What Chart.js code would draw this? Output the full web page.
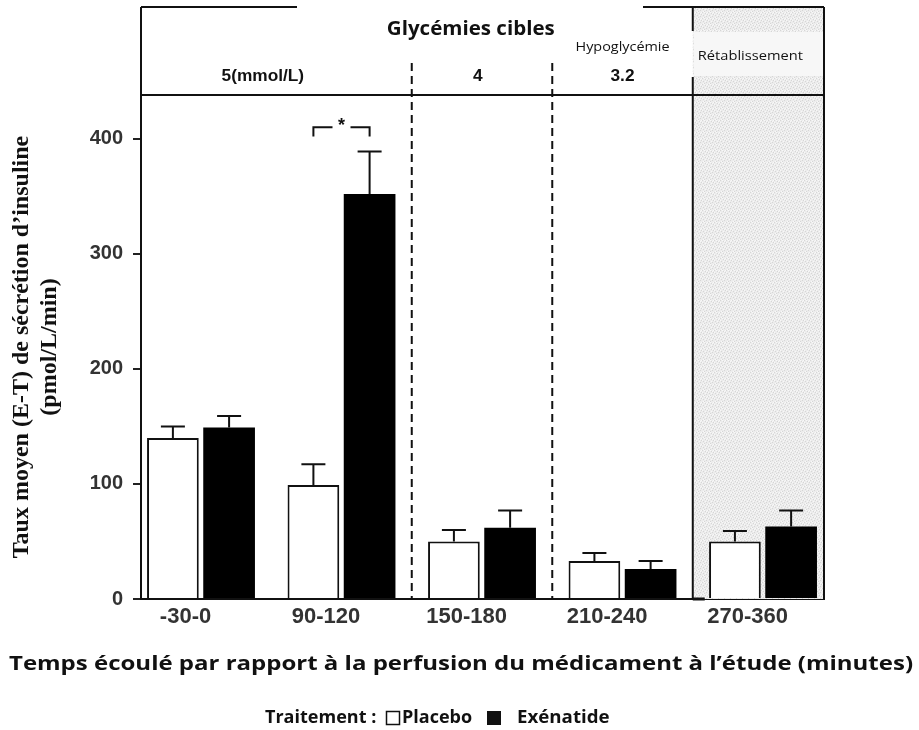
<!DOCTYPE html>
<html>
<head>
<meta charset="utf-8">
<script src="https://cdn.jsdelivr.net/npm/chart.js@4.4.0/dist/chart.umd.min.js"></script>
<style>
  html, body { margin: 0; padding: 0; background: #fff; }
</style>
</head>
<body>
<canvas id="myChart" width="919" height="730"></canvas>
<script>
// data
var categories = ["-30-0", "90-120", "150-180", "210-240", "270-360"];
var placebo = [140, 99, 50, 33, 50];
var placeboErr = [10, 18, 10, 7, 9];
var exenatide = [149, 352, 62, 26, 63];
var exenatideErr = [10, 37, 15, 7, 14];
var yTicks = [0, 100, 200, 300, 400];
var phaseLabels = ["5(mmol/L)", "4", "3.2"];
var phaseCenters = [0.44, 1.97, 3.0];   // in category units
var phaseBounds = [1.5, 2.5];           // dashed separators
var recoveryStart = 3.5;                // shaded "Rétablissement" zone
var labelShift = -0.11;                 // x labels sit a little left of each pair

var sans = "'Open Sans', 'Noto Sans', sans-serif";
var arial = "'Liberation Sans', Arial, sans-serif";

// small fixed stipple for the shaded zone
function stipple(ctx) {
  var c = document.createElement("canvas");
  c.width = 6; c.height = 6;
  var p = c.getContext("2d");
  p.fillStyle = "#ececec";
  p.fillRect(0, 0, 6, 6);
  p.fillStyle = "#d6d6d6";
  [[0, 0], [3, 1], [1, 3], [4, 4], [5, 2], [2, 5]].forEach(function(d) { p.fillRect(d[0], d[1], 1, 1); });
  p.fillStyle = "#f8f8f8";
  [[2, 0], [5, 0], [0, 2], [3, 3], [1, 5], [4, 1]].forEach(function(d) { p.fillRect(d[0], d[1], 1, 1); });
  return ctx.createPattern(c, "repeat");
}

// text stretched horizontally like the source image
function wideText(ctx, text, x, y, sx) {
  ctx.save();
  ctx.translate(x, y);
  ctx.scale(sx, 1);
  ctx.fillText(text, 0, 0);
  ctx.restore();
}

var backdrop = {
  id: "backdrop",
  beforeDatasetsDraw: function(chart) {
    var ctx = chart.ctx, a = chart.chartArea, xs = chart.scales.x;
    var x0 = xs.getPixelForValue(recoveryStart);
    ctx.save();
    ctx.fillStyle = stipple(ctx);
    ctx.fillRect(x0, 7, a.right - x0, a.bottom - 7);
    ctx.fillStyle = "#f7f7f7";
    ctx.fillRect(x0 + 1, 32, a.right - x0 - 2, 44);
    ctx.restore();
  }
};

var frame = {
  id: "frame",
  afterDraw: function(chart) {
    var ctx = chart.ctx, a = chart.chartArea, xs = chart.scales.x, ys = chart.scales.y;
    ctx.save();
    ctx.strokeStyle = "#111";
    ctx.lineWidth = 2;
    ctx.beginPath();
    // header box
    ctx.moveTo(a.left, 7); ctx.lineTo(297, 7);
    ctx.moveTo(643, 7); ctx.lineTo(a.right, 7);
    ctx.moveTo(a.left, 7); ctx.lineTo(a.left, a.top);
    ctx.moveTo(a.left, a.top); ctx.lineTo(a.right, a.top);
    ctx.moveTo(a.right, 7); ctx.lineTo(a.right, a.bottom);
    var x0 = xs.getPixelForValue(recoveryStart);
    ctx.moveTo(x0, 7); ctx.lineTo(x0, 31);
    ctx.moveTo(x0, 77); ctx.lineTo(x0, a.bottom);
    ctx.stroke();
    ctx.beginPath();
    ctx.moveTo(x0, a.bottom); ctx.lineTo(x0 + 12, a.bottom);
    ctx.lineWidth = 3;
    ctx.stroke();

    // dashed separators
    ctx.lineWidth = 2;
    ctx.setLineDash([8, 5]);
    ctx.beginPath();
    phaseBounds.forEach(function(v) {
      var px = xs.getPixelForValue(v);
      ctx.moveTo(px, 63); ctx.lineTo(px, a.bottom);
    });
    ctx.stroke();
    ctx.setLineDash([]);

    // header text
    ctx.fillStyle = "#111";
    ctx.textAlign = "center";
    ctx.textBaseline = "middle";
    ctx.font = "bold 19px " + sans;
    wideText(ctx, "Glycémies cibles", xs.getPixelForValue(1.92), 30, 1.08);
    ctx.font = "bold 16px " + arial;
    phaseLabels.forEach(function(t, i) {
      wideText(ctx, t, xs.getPixelForValue(phaseCenters[i]), 77, 1.08);
    });
    ctx.font = "12px " + sans;
    wideText(ctx, "Hypoglycémie", xs.getPixelForValue(3.0), 48, 1.2);
    wideText(ctx, "Rétablissement", xs.getPixelForValue(3.91), 57, 1.22);

    // significance bracket between the two 90-120 bars
    var m0 = chart.getDatasetMeta(0).data[1], m1 = chart.getDatasetMeta(1).data[1];
    var yb = ys.getPixelForValue(410), ye = ys.getPixelForValue(402);
    var mid = (m0.x + m1.x) / 2;
    ctx.beginPath();
    ctx.moveTo(m0.x, ye); ctx.lineTo(m0.x, yb); ctx.lineTo(mid - 9, yb);
    ctx.moveTo(mid + 9, yb); ctx.lineTo(m1.x, yb); ctx.lineTo(m1.x, ye);
    ctx.stroke();
    ctx.font = "bold 18px " + arial;
    ctx.fillText("*", mid, yb - 1);

    // x axis title
    ctx.font = "bold 20px " + sans;
    wideText(ctx, "Temps écoulé par rapport à la perfusion du médicament à l’étude (minutes)", 461, 664, 1.2);

    // legend
    ctx.textAlign = "left";
    ctx.font = "bold 17px " + sans;
    wideText(ctx, "Traitement :", 265, 718, 1.06);
    wideText(ctx, "Placebo", 402, 718, 1.06);
    wideText(ctx, "Exénatide", 517, 718, 1.1);
    ctx.lineWidth = 1.5;
    ctx.strokeRect(386.5, 711.5, 13, 13);
    ctx.fillRect(487, 711, 14, 14);
    ctx.restore();
  }
};

var errorBars = {
  id: "errorBars",
  afterDatasetsDraw: function(chart) {
    var ctx = chart.ctx, ys = chart.scales.y;
    var errs = [placeboErr, exenatideErr];
    ctx.save();
    ctx.strokeStyle = "#111";
    ctx.lineWidth = 2;
    chart.data.datasets.forEach(function(ds, di) {
      chart.getDatasetMeta(di).data.forEach(function(bar, i) {
        var top = ys.getPixelForValue(ds.data[i].y + errs[di][i]);
        ctx.beginPath();
        ctx.moveTo(bar.x, bar.y); ctx.lineTo(bar.x, top);
        ctx.moveTo(bar.x - 12, top); ctx.lineTo(bar.x + 12, top);
        ctx.stroke();
      });
    });
    ctx.restore();
  }
};

function points(values) {
  return values.map(function(v, i) { return { x: i, y: v }; });
}

var ctx = document.getElementById("myChart");
var chart = new Chart(ctx, {
  type: "bar",
  data: {
    datasets: [
      {
        label: "Placebo",
        data: points(placebo),
        backgroundColor: "#fff",
        borderColor: "#111",
        borderWidth: 2,
        borderSkipped: "bottom"
      },
      {
        label: "Exénatide",
        data: points(exenatide),
        backgroundColor: "#000",
        borderColor: "#000",
        borderWidth: 0
      }
    ]
  },
  options: {
    responsive: false,
    animation: false,
    devicePixelRatio: 1,
    categoryPercentage: 0.8,
    barPercentage: 0.92,
    layout: { padding: { top: 95, right: 95, left: 0, bottom: 0 } },
    plugins: {
      legend: { display: false },
      tooltip: { enabled: false }
    },
    scales: {
      x: {
        type: "linear",
        min: -0.427,
        max: 4.434,
        offset: false,
        afterBuildTicks: function(axis) {
          axis.ticks = categories.map(function(c, i) { return { value: i + labelShift }; });
        },
        afterFit: function(axis) { axis.height = 131; },
        grid: { display: false },
        border: { display: true, color: "#111", width: 2 },
        ticks: {
          autoSkip: false,
          maxRotation: 0,
          padding: -3,
          color: "#333",
          font: { family: arial, weight: "bold", size: 22 },
          callback: function(v) { return categories[Math.round(v)]; }
        }
      },
      y: {
        min: 0,
        max: 438,
        afterBuildTicks: function(axis) {
          axis.ticks = yTicks.map(function(v) { return { value: v }; });
        },
        afterFit: function(axis) { axis.width = 141; },
        grid: { drawOnChartArea: false, drawTicks: true, tickLength: 8, color: "#222", lineWidth: 2 },
        border: { display: true, color: "#111", width: 2 },
        ticks: {
          padding: 10,
          color: "#333",
          font: { family: arial, weight: "bold", size: 20 }
        },
        title: {
          display: true,
          text: ["Taux moyen (E-T) de sécrétion d’insuline", "(pmol/L/min)"],
          color: "#111",
          font: { family: "'Liberation Serif', 'DejaVu Serif', serif", weight: "bold", size: 24, lineHeight: 1.17 },
          padding: { top: 8 }
        }
      }
    }
  },
  plugins: [backdrop, errorBars, frame]
});
</script>
</body>
</html>
